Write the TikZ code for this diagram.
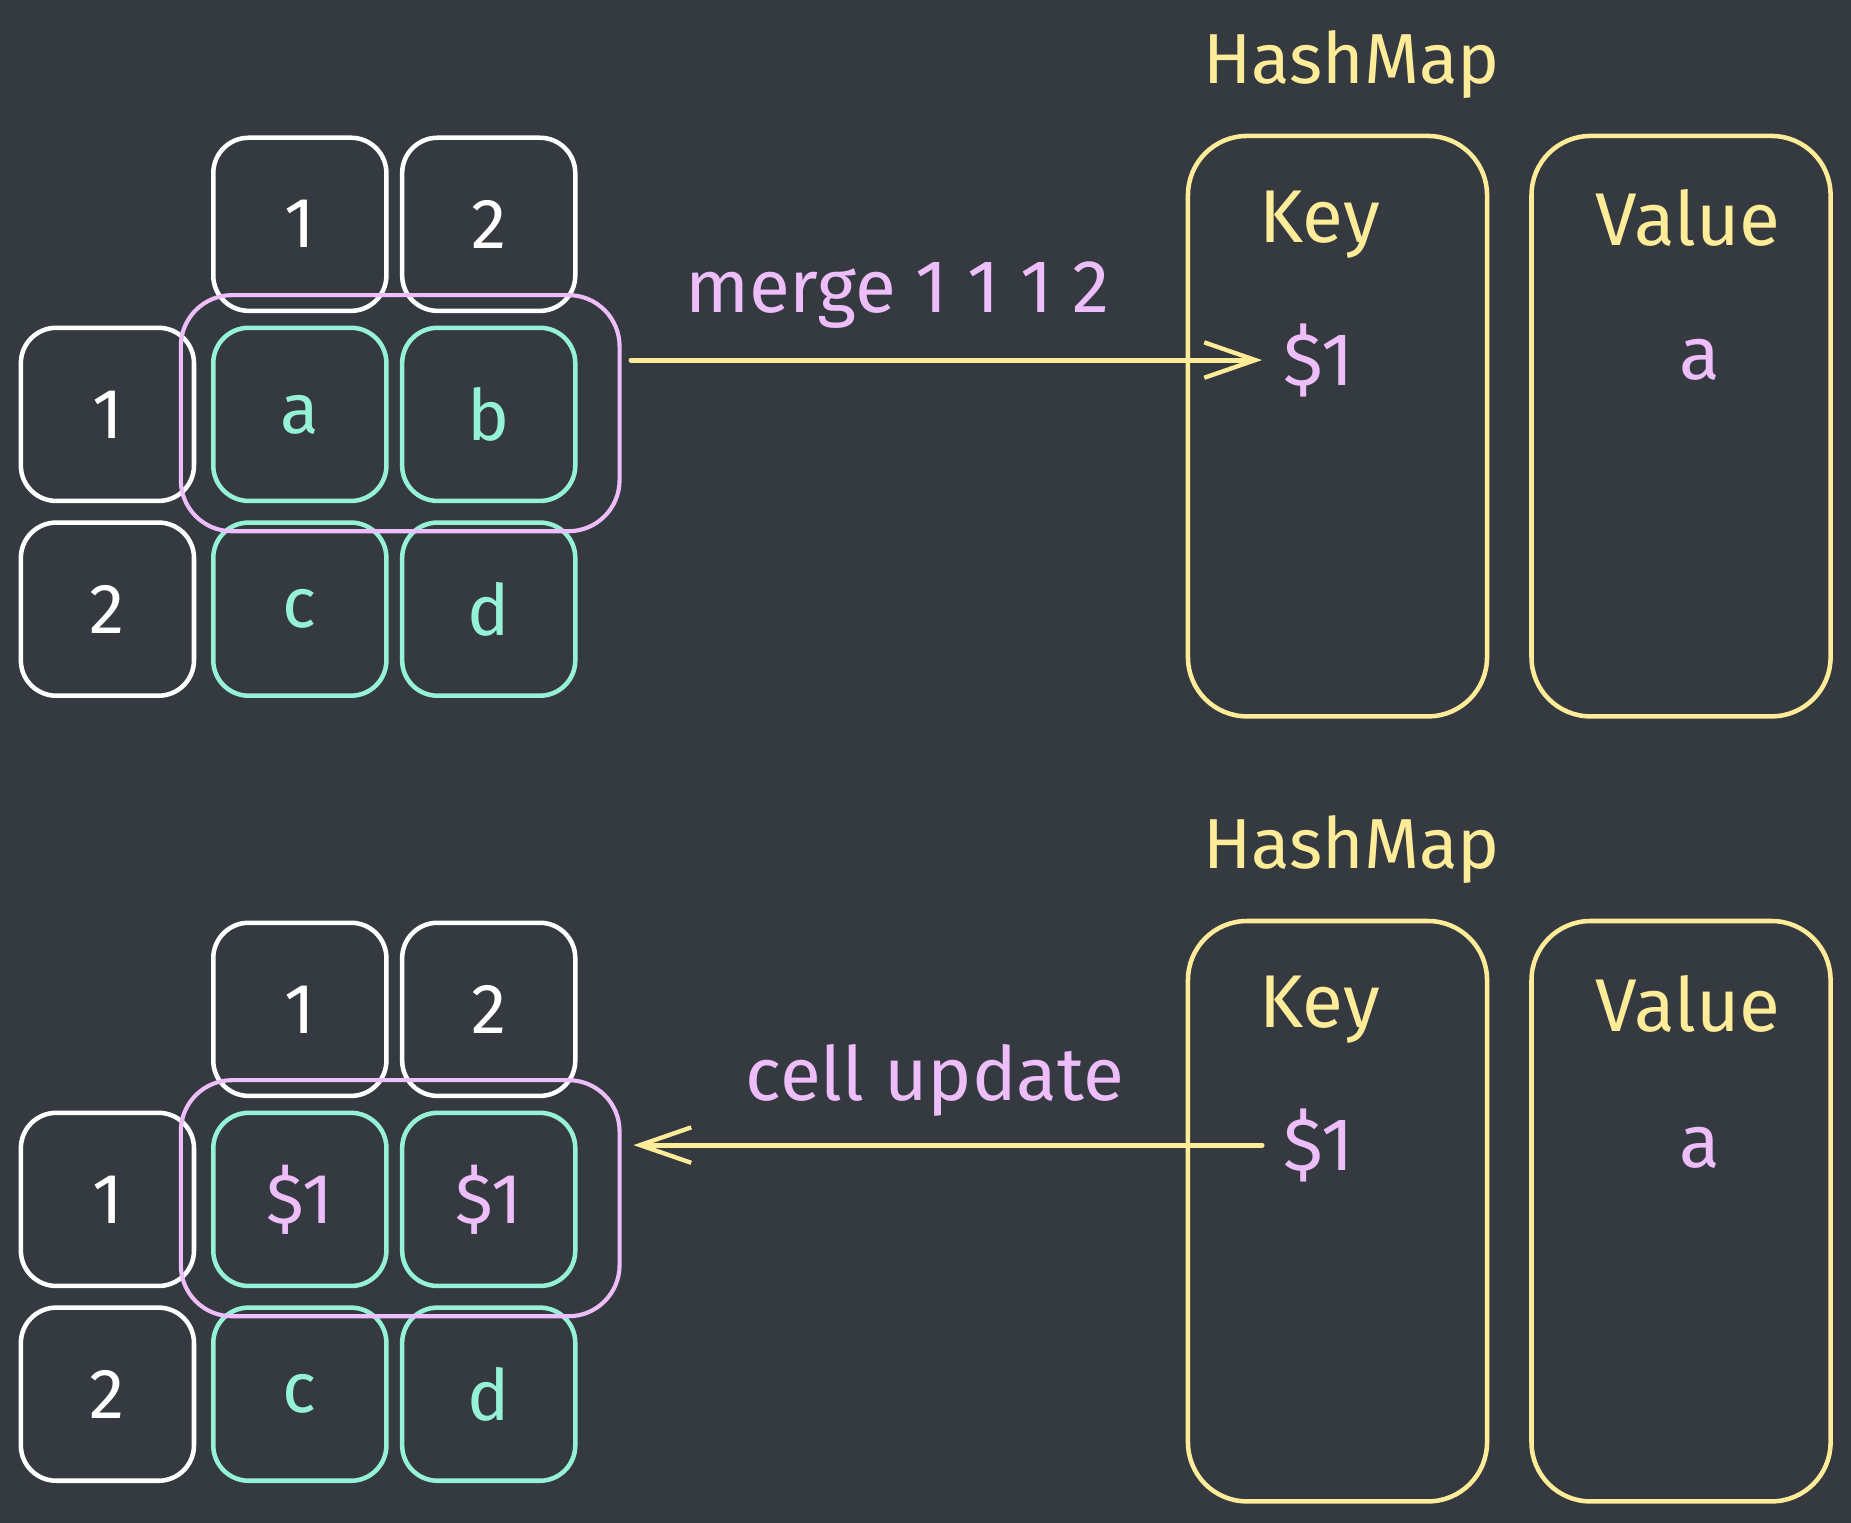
\documentclass[tikz,border=0pt]{standalone}
\usepackage{fontspec}
\setmainfont{Fira Sans}
\usetikzlibrary{arrows.meta,calc}
\definecolor{bg}{HTML}{343A40}
\definecolor{inkw}{HTML}{FFFFFF}
\definecolor{tealc}{HTML}{96F2D7}
\definecolor{pinkc}{HTML}{EEBEFA}
\definecolor{yelc}{HTML}{FFEC99}
\tikzset{
  cellbase/.style={line width=2.3pt, rounded corners=18pt, minimum width=88pt, minimum height=88pt, inner sep=0pt, font=\fontsize{36}{40}\selectfont},
  hdrcell/.style={cellbase, draw=inkw, text=inkw},
  datacell/.style={cellbase, draw=tealc, text=tealc},
  dollarcell/.style={cellbase, draw=tealc, text=pinkc},
  groupbox/.style={draw=pinkc, line width=2.1pt, rounded corners=26pt, minimum width=223pt, minimum height=120pt, inner sep=0pt},
  mapbox/.style={draw=yelc, line width=2.3pt, rounded corners=30pt, minimum width=152pt, minimum height=295pt, inner sep=0pt},
  maptitle/.style={text=yelc, font=\fontsize{36}{40}\selectfont, inner sep=0pt},
  maphead/.style={text=yelc, font=\fontsize{38}{42}\selectfont, inner sep=0pt},
  mapentry/.style={text=pinkc, font=\fontsize{38}{42}\selectfont, inner sep=0pt},
  oplabel/.style={text=pinkc, font=\fontsize{38}{42}\selectfont, inner sep=0pt},
  arr/.style={draw=yelc, line width=2.6pt, line cap=round, -{Straight Barb[length=26pt, width=18pt, line width=2.2pt]}}
}
\begin{document}
\begin{tikzpicture}[x=0.6pt, y=-0.6pt]
\fill[bg] (0,0) rectangle (1568,1290);
\useasboundingbox (0,0) rectangle (1568,1290);

% ---------- top half ----------
\node[hdrcell] (th1) at (254,190) {1};
\node[hdrcell] (th2) at (414,190) {2};
\node[hdrcell] (tr1) at (91,351) {1};
\node[hdrcell] (tr2) at (91,516) {2};
\node[datacell] (ta) at (254,351) {a};
\node[datacell] (tb) at (414,351) {b};
\node[datacell] (tc) at (254,516) {c};
\node[datacell] (td) at (414,516) {d};
\node[groupbox] (tg) at (339,350) {};

\node[maptitle] (thm) at (1145,55) {HashMap};
\node[mapbox] (tkey) at (1133,361) {};
\node[mapbox] (tval) at (1424,361) {};
\node[maphead] (tkeyl) at (1118,190) {Key};
\node[maphead] (tvall) at (1430,185) {Value};
\node[mapentry] (tk1) at (1117,305) {\$1};
\node[mapentry] (tv1) at (1440,305) {a};

\node[oplabel] (tlab) at (760,250) {merge 1 1 1 2};
\coordinate (tstart) at ($(tg.east |- tk1.west)+(8,0)$);
\draw[arr] (tstart) -- ($(tk1.west)+(-18,0)$);

% ---------- bottom half ----------
\node[hdrcell] (bh1) at (254,855) {1};
\node[hdrcell] (bh2) at (414,855) {2};
\node[hdrcell] (br1) at (91,1016) {1};
\node[hdrcell] (br2) at (91,1181) {2};
\node[dollarcell] (ba) at (254,1016) {\$1};
\node[dollarcell] (bb) at (414,1016) {\$1};
\node[datacell] (bc) at (254,1181) {c};
\node[datacell] (bd) at (414,1181) {d};
\node[groupbox] (bg) at (339,1015) {};

\node[maptitle] (bhm) at (1145,720) {HashMap};
\node[mapbox] (bkey) at (1133,1026) {};
\node[mapbox] (bval) at (1424,1026) {};
\node[maphead] (bkeyl) at (1118,855) {Key};
\node[maphead] (bvall) at (1430,850) {Value};
\node[mapentry] (bk1) at (1117,970) {\$1};
\node[mapentry] (bv1) at (1440,972) {a};

\node[oplabel] (blab) at (792,915) {cell update};
\coordinate (bend) at ($(bg.east |- bk1.west)+(10,0)$);
\draw[arr] ($(bk1.west)+(-18,0)$) -- (bend);
\end{tikzpicture}
\end{document}
